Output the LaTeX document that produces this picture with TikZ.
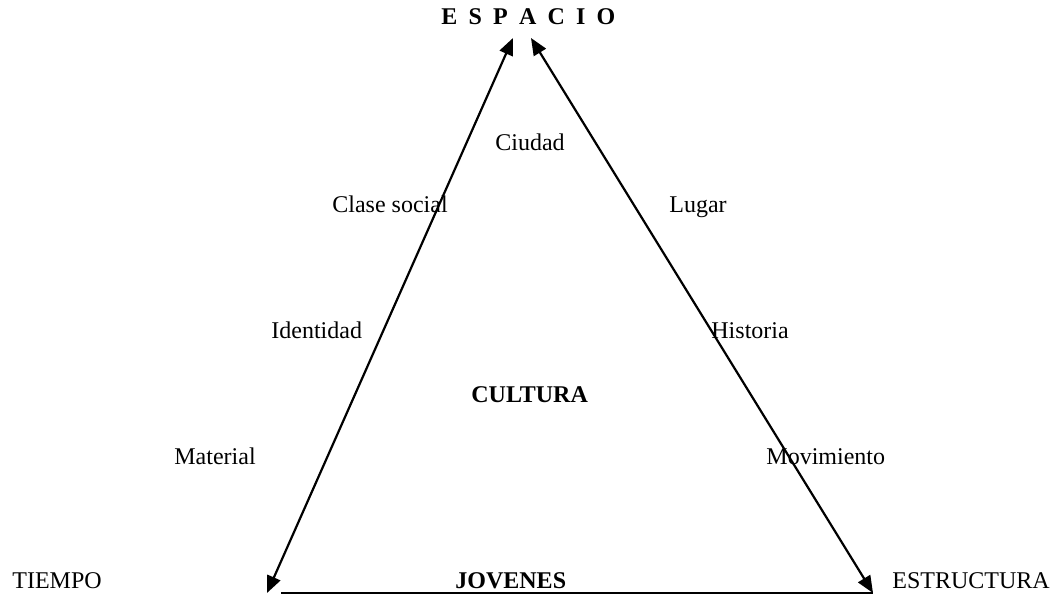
\documentclass[tikz,border=0pt]{standalone}
\usepackage{fontspec}
\setmainfont{Liberation Serif}
\usetikzlibrary{arrows.meta}
\begin{document}
\begin{tikzpicture}[x=0.5pt,y=-0.5pt,
  lbl/.style={anchor=base west,inner sep=0pt,font=\fontsize{12pt}{14pt}\selectfont},
  blbl/.style={lbl,font=\fontsize{12pt}{14pt}\selectfont\bfseries},
  edge/.style={line width=1.1pt},
  arr/.style={edge,{Triangle[length=8.5pt,width=7pt]}-{Triangle[length=8.5pt,width=7pt]}}]
\useasboundingbox (0,0) rectangle (1052,595);
% vertices
\coordinate (topL) at (513,38);
\coordinate (topR) at (531,38);
\coordinate (botL) at (267,593);
\coordinate (botR) at (873,593);
\coordinate (baseL) at (281,593);
% edges
\draw[arr] (botL) -- (topL);
\draw[arr] (botR) -- (topR);
\draw[edge] (baseL) -- (botR);
% labels
\node[blbl] (espacio) at (441,24) {E\hspace{5.6pt}S\hspace{5.6pt}P\hspace{5.6pt}A\hspace{5.6pt}C\hspace{5.6pt}I\hspace{5.6pt}O};
\node[lbl] (ciudad) at (495,150) {Ciudad};
\node[lbl] (clase) at (332,212) {Clase social};
\node[lbl] (lugar) at (669,212) {Lugar};
\node[lbl] (identidad) at (271,338) {Identidad};
\node[lbl] (historia) at (711,338) {Historia};
\node[blbl] (cultura) at (471,402) {CULTURA};
\node[lbl] (material) at (174,464) {Material};
\node[lbl] (movimiento) at (766,464) {Movimiento};
\node[lbl] (tiempo) at (12,588) {TIEMPO};
\node[blbl] (jovenes) at (455,588) {JOVENES};
\node[lbl] (estructura) at (892,588) {ESTRUCTURA};
\end{tikzpicture}
\end{document}
